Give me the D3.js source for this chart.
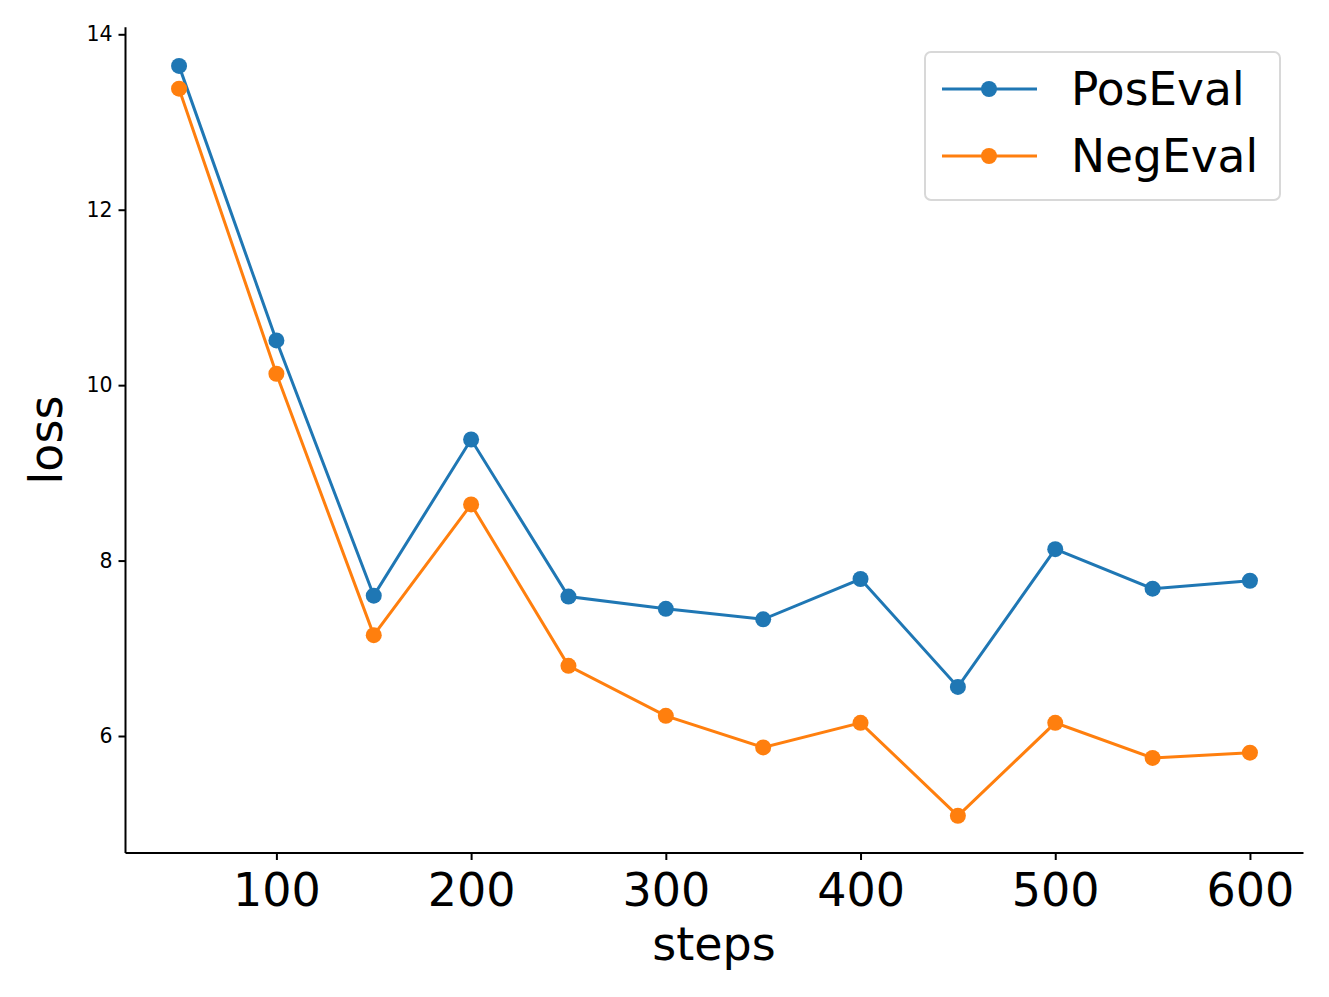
<!DOCTYPE html>
<html>
<head>
<meta charset="utf-8">
<script src="https://cdn.jsdelivr.net/npm/d3@7"></script>
<style>
  body { margin: 0; background: #fff; }
  text { font-family: "DejaVu Sans", sans-serif; }
</style>
</head>
<body>
<script>
const steps = [50, 100, 150, 200, 250, 300, 350, 400, 450, 500, 550, 600]
const posEval = [13.64, 10.51, 7.60, 9.38, 7.59, 7.45, 7.33, 7.79, 6.56, 8.13, 7.68, 7.77]
const negEval = [13.38, 10.13, 7.15, 8.64, 6.80, 6.23, 5.87, 6.15, 5.09, 6.15, 5.75, 5.81]
const xTicks = [100, 200, 300, 400, 500, 600]
const yTicks = [6, 8, 10, 12, 14]
const seriesNames = ['PosEval', 'NegEval']
const seriesColors = ['#1f77b4', '#ff7f0e']

let width = 1329
let height = 997

const svg = d3.select('body').append('svg').attr('width', width).attr('height', height)

const x = d3.scaleLinear().domain([22.5, 627.5]).range([125.5, 1303.5])
const y = d3.scaleLinear().domain([6, 14]).range([736, 34.3])
const yBottom = 853, yTop = y(14.08)

// axes (left + bottom only)
svg.append('g')
  .attr('transform', `translate(0,${yBottom})`)
  .call(d3.axisBottom(x).tickValues(xTicks).tickSize(7).tickPadding(13).tickFormat(d3.format('d')))
  .call(g => g.select('.domain').attr('d', `M${x.range()[0]},0H${x.range()[1]}`))
  .call(g => g.selectAll('text').attr('font-size', 46).attr('fill', '#000'))

svg.append('g')
  .attr('transform', 'translate(125.5,0)')
  .call(d3.axisLeft(y).tickValues(yTicks).tickSize(7).tickPadding(6))
  .call(g => g.select('.domain').attr('d', `M0,${yBottom}V${yTop}`))
  .call(g => g.selectAll('text').attr('font-size', 20.5).attr('fill', '#000'))

svg.selectAll('.domain, .tick line').attr('stroke', '#000').attr('stroke-width', 2)

svg.append('text').attr('x', 714).attr('y', 960).attr('text-anchor', 'middle')
  .attr('font-size', 46).text('steps')
svg.append('text').attr('transform', 'translate(62,440) rotate(-90)').attr('text-anchor', 'middle')
  .attr('font-size', 46).text('loss')

const allSeries = [posEval, negEval]
const line = d3.line().x((d, i) => x(steps[i])).y(d => y(d))

allSeries.forEach((vals, s) => {
  svg.append('path').datum(vals).attr('d', line)
    .attr('fill', 'none').attr('stroke', seriesColors[s]).attr('stroke-width', 3)
  svg.append('g').selectAll('circle').data(vals).enter().append('circle')
    .attr('cx', (d, i) => x(steps[i])).attr('cy', d => y(d)).attr('r', 8)
    .attr('fill', seriesColors[s])
})

// legend
const legend = svg.append('g')
legend.append('rect').attr('x', 925).attr('y', 52).attr('width', 355).attr('height', 148)
  .attr('rx', 6).attr('fill', '#fff').attr('fill-opacity', 0.8).attr('stroke', '#d8d8d8').attr('stroke-width', 2)
seriesNames.forEach((name, i) => {
  const ly = 89 + i * 67
  legend.append('line').attr('x1', 942).attr('x2', 1037).attr('y1', ly).attr('y2', ly)
    .attr('stroke', seriesColors[i]).attr('stroke-width', 3)
  legend.append('circle').attr('cx', 989).attr('cy', ly).attr('r', 8).attr('fill', seriesColors[i])
  legend.append('text').attr('x', 1071).attr('y', ly + 16).attr('font-size', 45.5).text(name)
})
</script>
</body>
</html>
